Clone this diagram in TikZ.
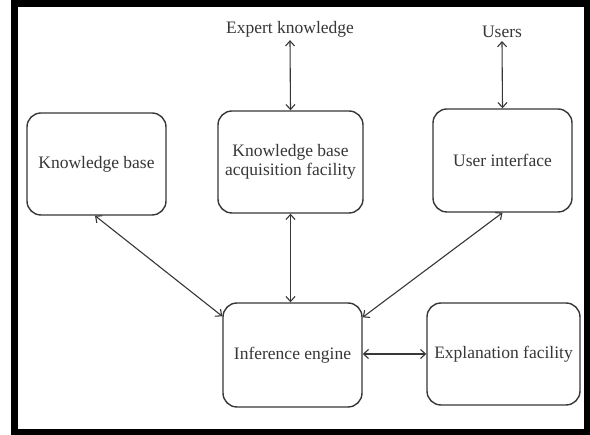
\documentclass[tikz,border=0pt]{standalone}
\usepackage{fontspec}
\setmainfont{Liberation Serif}
\usetikzlibrary{arrows.meta}
\definecolor{ink}{RGB}{55,55,55}
\begin{document}
\begin{tikzpicture}[x=1pt,y=-1pt,
  box/.style={draw=ink,line width=1.4pt,rounded corners=14pt,inner sep=0pt,
    align=center,text=ink,font=\fontsize{17.5}{19}\selectfont},
  lab/.style={inner sep=0pt,text=ink,font=\fontsize{17.5}{19}\selectfont},
  link/.style={draw=ink,line width=1.1pt,{Straight Barb[length=5pt,width=9pt]}-{Straight Barb[length=5pt,width=9pt]}}]
\useasboundingbox (0,0) rectangle (590,435);
\fill[white] (0,0) rectangle (590,435);
\fill[black] (11,0) rectangle (590,435);
\fill[white] (18,7) rectangle (584,429);
\node[box,minimum width=139pt,minimum height=102pt] (kb) at (96.5,164) {Knowledge base};
\node[box,minimum width=145pt,minimum height=102pt] (kba) at (290.5,162) {Knowledge base\\acquisition facility};
\node[box,minimum width=139pt,minimum height=103pt] (ui) at (502.5,160.5) {User interface};
\node[box,minimum width=139pt,minimum height=104pt] (ie) at (292.5,355) {Inference engine};
\node[box,minimum width=153pt,minimum height=102pt] (ef) at (503.5,354) {Explanation facility};
\node[lab] (ek) at (290,29) {Expert knowledge};
\node[lab] (us) at (502,32) {Users};
\draw[link] ([yshift=-3pt]ek.south) -- (kba.north);
\draw[link] ([yshift=-3pt]us.south) -- (ui.north);
\draw[link] ([xshift=-1.5pt]kb.south) -- ([yshift=-14pt]ie.north west);
\draw[link] (kba.south) -- (kba.south |- ie.north);
\draw[link] (ui.south) -- ([yshift=-15pt]ie.north east);
\draw[link] (ie.east |- ef.west) -- (ef.west);
\end{tikzpicture}
\end{document}
